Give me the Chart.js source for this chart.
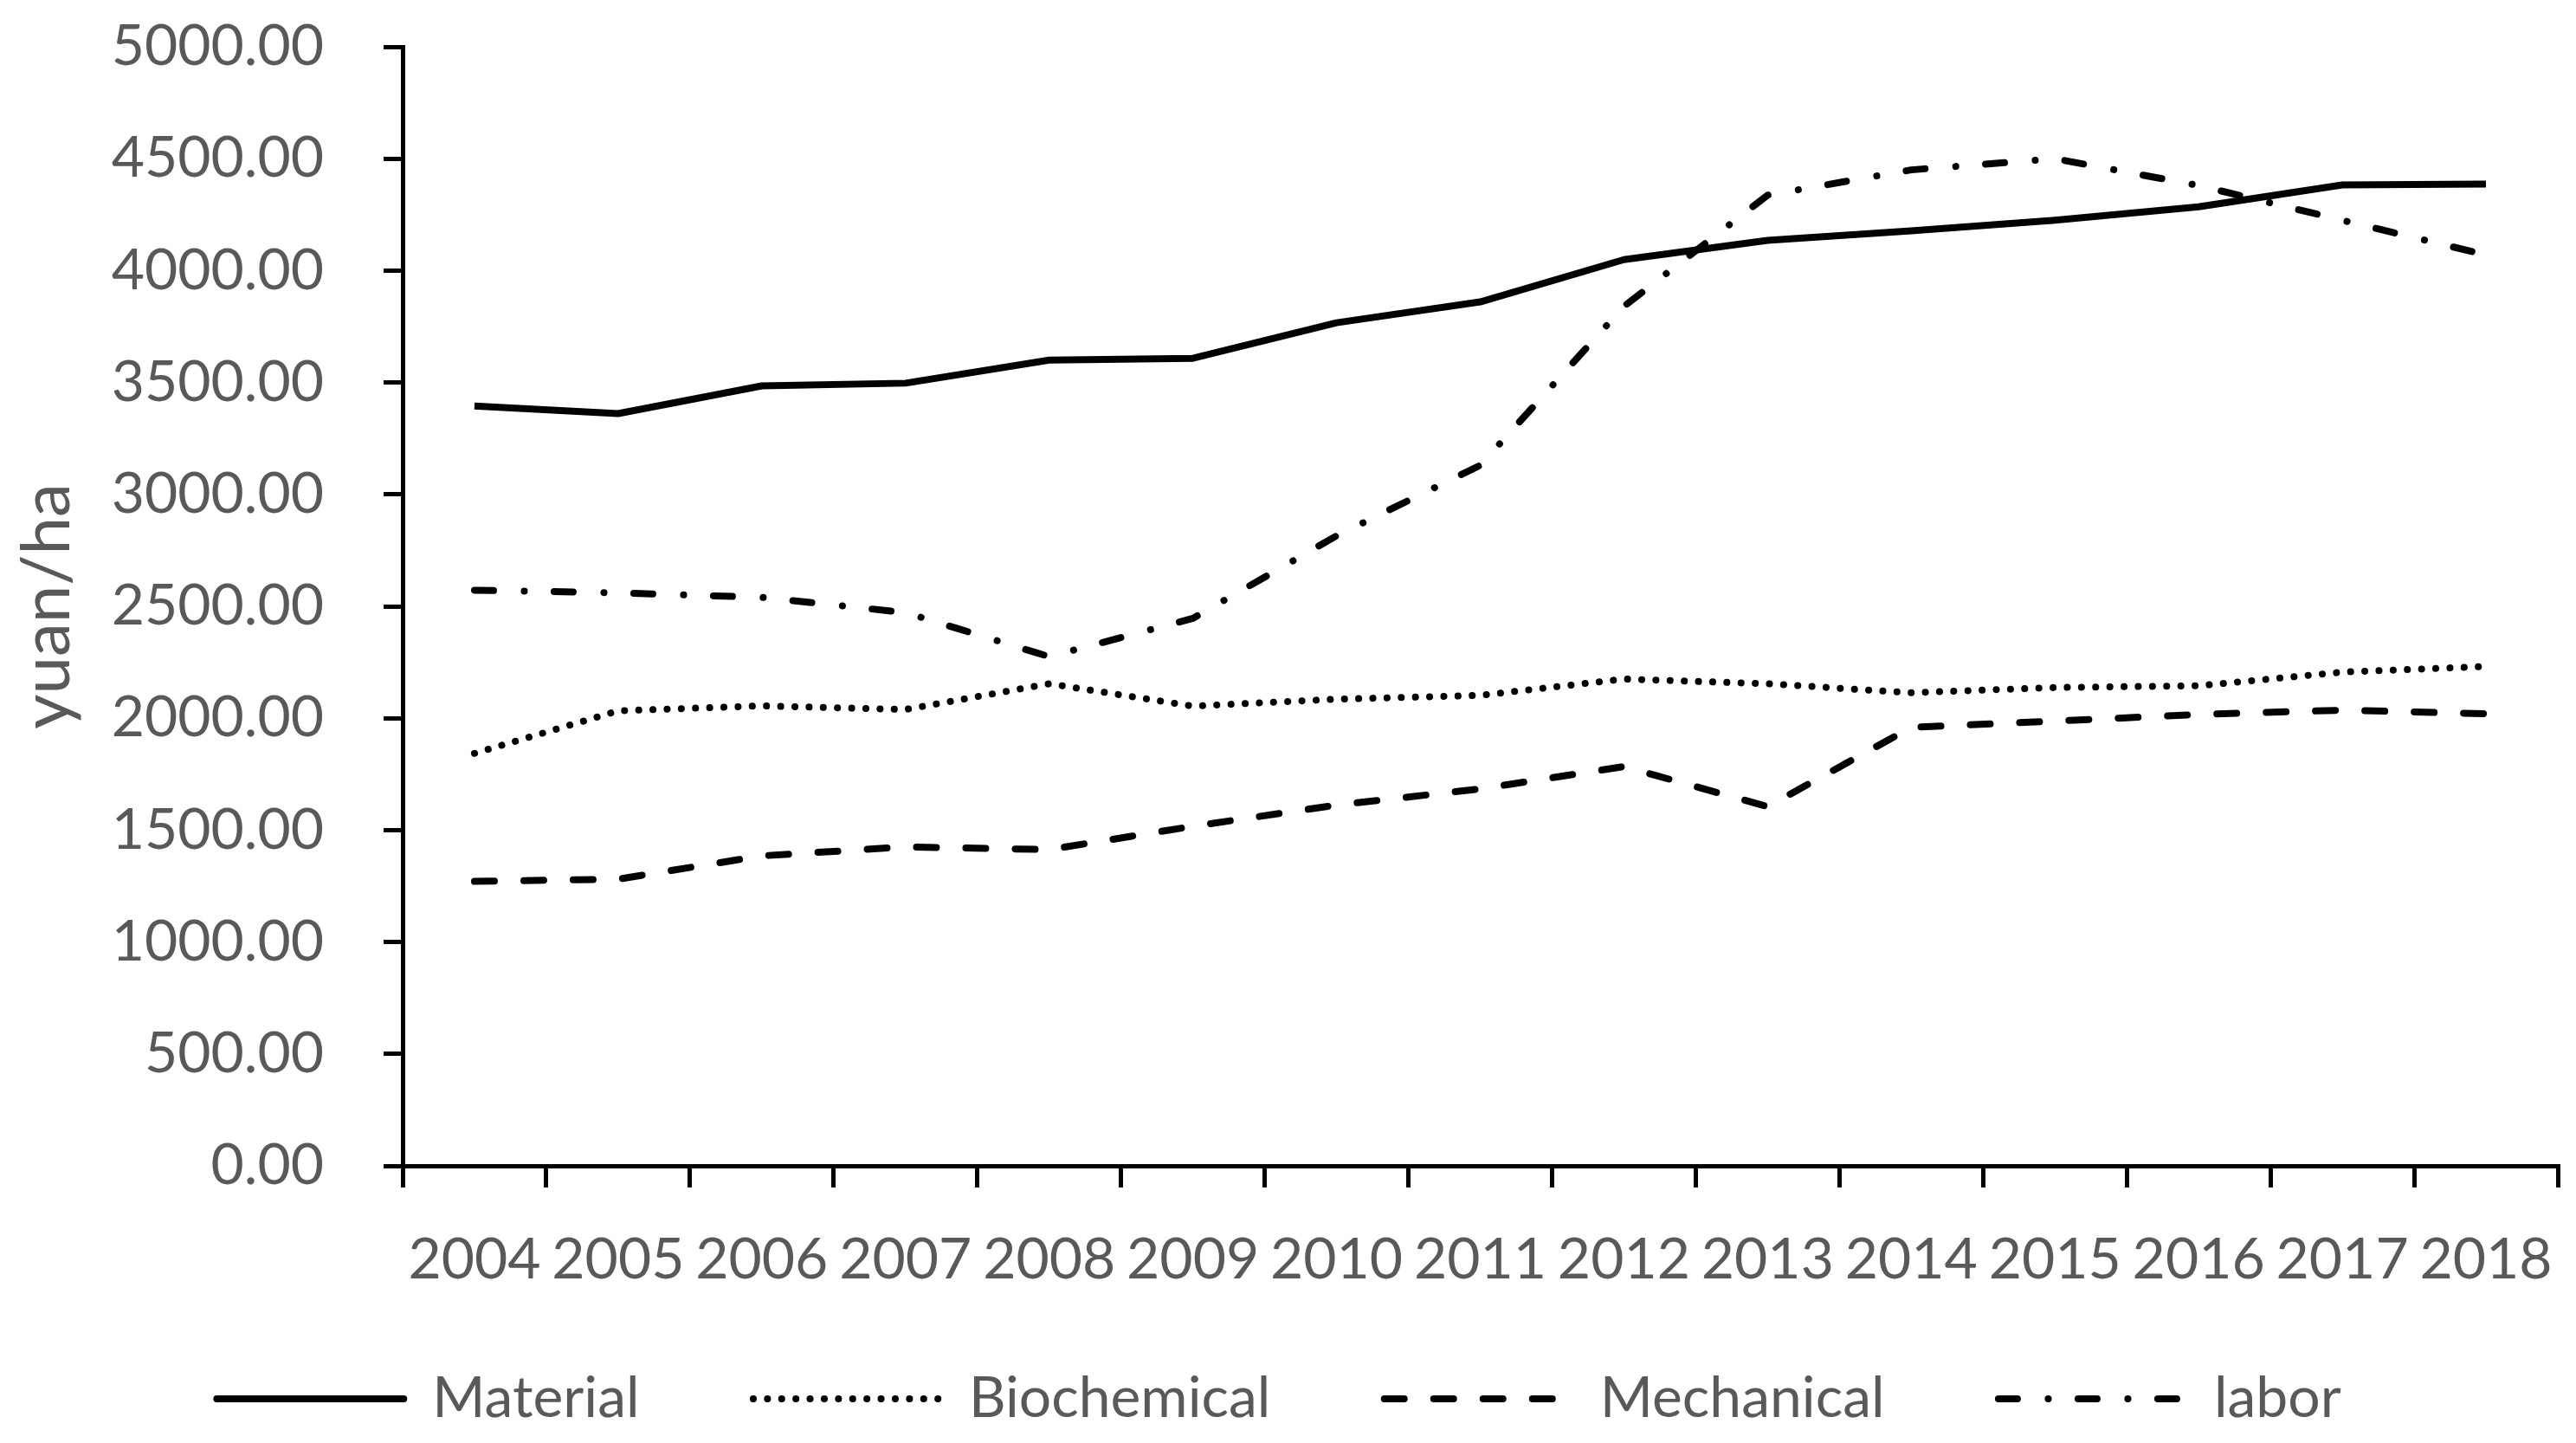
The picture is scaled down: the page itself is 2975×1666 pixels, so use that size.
<!DOCTYPE html>
<html>
<head>
<meta charset="utf-8">
<script src="https://cdn.jsdelivr.net/npm/chart.js@4.4.0/dist/chart.umd.min.js"></script>
<style>
  html, body { margin: 0; padding: 0; background: #ffffff; }
  #wrap { width: 2975px; height: 1666px; }
</style>
</head>
<body>
<div id="wrap"><canvas id="c" width="2975" height="1666"></canvas></div>
<script>
const years = ['2004','2005','2006','2007','2008','2009','2010','2011','2012','2013','2014','2015','2016','2017','2018'];
const material    = [3395, 3361, 3485, 3497, 3600, 3608, 3767, 3860, 4049, 4135, 4178, 4225, 4285, 4383, 4387];
const biochemical = [1843, 2033, 2055, 2039, 2154, 2054, 2085, 2102, 2175, 2154, 2114, 2137, 2145, 2206, 2231];
const mechanical  = [1271, 1281, 1385, 1425, 1413, 1517, 1612, 1684, 1784, 1605, 1959, 1987, 2017, 2036, 2020];
const labor       = [2572, 2560, 2540, 2472, 2275, 2446, 2815, 3130, 3840, 4337, 4450, 4500, 4380, 4225, 4070];
const seriesNames = ['Material', 'Biochemical', 'Mechanical', 'labor'];
const yAxisTitle = 'yuan/ha';
const yMin = 0, yMax = 5000, yStep = 500;

const FONT = 'Lato';
const GREY = '#595959';

function ds(label, data, dash, width) {
  return {
    label: label,
    data: data,
    borderColor: '#000000',
    backgroundColor: '#000000',
    borderWidth: width,
    borderDash: dash,
    borderCapStyle: dash.length ? 'round' : 'butt',
    borderJoinStyle: 'round',
    pointRadius: 0,
    pointHoverRadius: 0,
    tension: 0,
    fill: false
  };
}

const LEGEND_GAP_SPACES = '      ';

new Chart(document.getElementById('c'), {
  type: 'line',
  data: {
    labels: years,
    datasets: [
      ds(seriesNames[0], material, [], 8),
      ds(seriesNames[1], biochemical, [0.1, 16.3], 8),
      ds(seriesNames[2], mechanical, [23, 34], 8),
      ds(seriesNames[3], labor, [22, 35.5, 0.1, 34.4], 8)
    ]
  },
  options: {
    responsive: false,
    animation: false,
    devicePixelRatio: 1,
    layout: { padding: { top: 54, right: 21, left: 0, bottom: 8 } },
    plugins: {
      tooltip: { enabled: false },
      legend: {
        display: true,
        position: 'bottom',
        align: 'center',
        labels: {
          usePointStyle: true,
          pointStyle: 'line',
          pointStyleWidth: 216,
          padding: 30,
          color: GREY,
          font: { family: FONT, size: 66 },
          generateLabels: function(chart) {
            const items = Chart.defaults.plugins.legend.labels.generateLabels(chart);
            const n = items.length;
            items.forEach(function(it, i) {
              const d = chart.data.datasets[it.datasetIndex];
              it.lineDash = d.borderDash;
              it.lineCap = d.borderCapStyle === 'butt' ? 'round' : d.borderCapStyle;
              it.lineWidth = d.borderWidth;
              it.strokeStyle = d.borderColor;
              it.fillStyle = d.borderColor;
              it.pointStyle = 'line';
              it.text = d.label + (i < n - 1 ? LEGEND_GAP_SPACES : '');
            });
            return items;
          }
        }
      }
    },
    scales: {
      x: {
        type: 'category',
        offset: true,
        grid: {
          offset: true,
          display: true,
          drawOnChartArea: false,
          drawTicks: true,
          tickLength: 25,
          color: '#000000',
          lineWidth: 5
        },
        border: { display: true, color: '#000000', width: 5 },
        ticks: {
          color: GREY,
          font: { family: FONT, size: 66 },
          padding: 44,
          maxRotation: 0,
          autoSkip: false
        },
        afterFit: function(scale) {
          scale.height = 206;
          scale.paddingLeft = 0;
          scale.paddingRight = 0;
        }
      },
      y: {
        min: yMin,
        max: yMax,
        grid: {
          display: true,
          drawOnChartArea: false,
          drawTicks: true,
          tickLength: 22,
          color: '#000000',
          lineWidth: 5
        },
        border: { display: true, color: '#000000', width: 5 },
        ticks: {
          stepSize: yStep,
          color: GREY,
          font: { family: FONT, size: 66 },
          padding: 69,
          callback: function(v) { return Number(v).toFixed(2); }
        },
        title: {
          display: true,
          text: yAxisTitle,
          color: GREY,
          font: { family: FONT, size: 78 },
          padding: { top: 8, bottom: 0 }
        },
        afterFit: function(scale) {
          scale.width = 465;
          scale.paddingTop = 0;
          scale.paddingBottom = 0;
        }
      }
    }
  }
});
</script>
</body>
</html>
